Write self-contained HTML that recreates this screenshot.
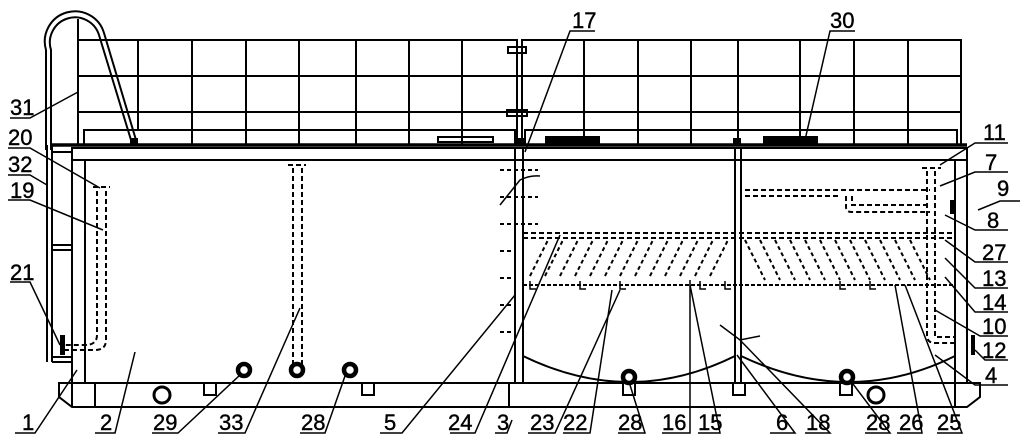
<!DOCTYPE html>
<html><head><meta charset="utf-8"><style>
html,body{margin:0;padding:0;background:#fff}
svg{display:block}
text{font-family:"Liberation Sans",sans-serif;font-size:22px;fill:#000;stroke:#000;stroke-width:0.4}
</style></head><body>
<svg width="1025" height="442" viewBox="0 0 1025 442" xmlns="http://www.w3.org/2000/svg">
<g fill="none" stroke="#000" stroke-width="2">
<rect x="78" y="40" width="439" height="105"/>
<rect x="522" y="40" width="439" height="105"/>
<line x1="78" y1="76" x2="961" y2="76"/>
<line x1="78" y1="112" x2="961" y2="112"/>
<g>
<line x1="138" y1="40" x2="138" y2="130"/><line x1="192" y1="40" x2="192" y2="145"/>
<line x1="246" y1="40" x2="246" y2="145"/><line x1="299" y1="40" x2="299" y2="145"/>
<line x1="356" y1="40" x2="356" y2="145"/><line x1="409" y1="40" x2="409" y2="145"/>
<line x1="462" y1="40" x2="462" y2="145"/>
<line x1="584" y1="40" x2="584" y2="145"/><line x1="638" y1="40" x2="638" y2="145"/>
<line x1="691" y1="40" x2="691" y2="145"/><line x1="738" y1="40" x2="738" y2="145"/>
<line x1="800" y1="40" x2="800" y2="145"/><line x1="854" y1="40" x2="854" y2="145"/>
<line x1="908" y1="40" x2="908" y2="145"/>
</g>
<line x1="78" y1="19" x2="78" y2="140"/>
<rect x="84" y="130" width="431" height="15"/>
<rect x="525" y="130" width="432" height="15"/>
<rect x="508" y="47" width="18" height="6"/><rect x="507" y="110" width="20" height="6"/>
<rect x="438" y="137" width="55" height="5"/>
<line x1="52" y1="145" x2="967" y2="145" stroke-width="3.5"/>
<rect x="72" y="148" width="895" height="12"/>
<line x1="85" y1="160" x2="955" y2="160"/>
<line x1="72" y1="148" x2="72" y2="383"/><line x1="85" y1="160" x2="85" y2="383"/>
<line x1="955" y1="160" x2="955" y2="383"/><line x1="967" y1="148" x2="967" y2="383"/>
<line x1="515" y1="148" x2="515" y2="383"/><line x1="523" y1="148" x2="523" y2="383"/>
<line x1="735" y1="148" x2="735" y2="383"/><line x1="741" y1="148" x2="741" y2="383"/>
<path d="M59 383 L980 383 L980 397 L967 407 L72 407 L59 397 Z"/>
<line x1="72" y1="383" x2="72" y2="407"/><line x1="95" y1="383" x2="95" y2="407"/>
<line x1="955" y1="383" x2="955" y2="407"/><line x1="509" y1="383" x2="509" y2="407"/>
<rect x="204" y="383" width="12" height="12"/><rect x="362" y="383" width="12" height="12"/>
<rect x="623" y="383" width="12" height="12"/><rect x="733" y="383" width="12" height="12"/>
<rect x="840" y="383" width="12" height="12"/>
<circle cx="162" cy="395" r="8" stroke-width="3"/><circle cx="876" cy="395" r="8" stroke-width="3"/>
<path d="M46 150 L46 50 A29 29 0 0 1 104 33 L136 140"/>
<path d="M51 150 L51 50 A24 24 0 0 1 99 35 L131 140"/>
<line x1="47" y1="145" x2="47" y2="362"/><line x1="52" y1="145" x2="52" y2="362"/>
<line x1="52" y1="152" x2="72" y2="152"/><line x1="52" y1="245" x2="72" y2="245"/>
<line x1="52" y1="250" x2="72" y2="250"/><line x1="52" y1="357" x2="72" y2="357"/>
<line x1="52" y1="362" x2="72" y2="362"/>
<path d="M523 356 Q630 408 735 356"/>
<path d="M741 356 Q850 408 955 356"/>
</g>
<g fill="none" stroke="#000" stroke-width="2" stroke-dasharray="5,3">
<path d="M93 187 L110 187 M97 191 L97 335 Q97 345 85 345 L62 345 M106 191 L106 340 Q106 350 95 350 L62 350"/>
<path d="M288 165 L306 165 M293 168 L293 365 M302 168 L302 365"/>
<line x1="523" y1="233" x2="955" y2="233"/>
<line x1="523" y1="238" x2="955" y2="238"/>
<line x1="523" y1="285" x2="955" y2="285" stroke-dasharray="4,2"/>
<path d="M745 190 L930 190 M745 196 L840 196 M846 196 L846 207 Q846 212 852 212 L930 212 M852 196 L852 205 L930 205"/>
<path d="M922 168 L941 168 M927 171 L927 335 Q927 343 935 343 L955 343 M935 171 L935 337 L955 337"/>
</g>
<g stroke="#000" stroke-width="2" stroke-dasharray="4,3">
<path d="M530 276 L548 240 M545 276 L563 240 M560 276 L578 240 M575 276 L593 240 M590 276 L608 240 M605 276 L623 240 M620 276 L638 240 M635 276 L653 240 M650 276 L668 240 M665 276 L683 240 M680 276 L698 240 M695 276 L713 240 M710 276 L728 240"/>
<path d="M745 240 L765 280 M760 240 L780 280 M775 240 L795 280 M790 240 L810 280 M805 240 L825 280 M820 240 L840 280 M835 240 L855 280 M850 240 L870 280 M865 240 L885 280 M880 240 L900 280 M895 240 L915 280 M910 240 L930 280"/>
<path d="M500 170 L538 170 M500 197 L538 197 M500 224 L538 224 M500 251 L515 251 M500 278 L515 278 M500 305 L515 305 M500 332 L515 332"/>
</g>
<g stroke="#000" stroke-width="1.5" fill="none">
<path d="M620 281 v8 h6 M725 281 v8 h6 M840 281 v8 h6 M700 281 v8 h6 M580 281 v8 h6 M870 281 v8 h6 M530 281 v8 h6"/>
</g>
<g fill="#000">
<rect x="545" y="136" width="55" height="9"/><rect x="763" y="136" width="55" height="9"/>
<rect x="130" y="138" width="8" height="7"/><rect x="515" y="138" width="10" height="8"/>
<rect x="733" y="138" width="8" height="8"/><rect x="60" y="335" width="5" height="20"/>
<rect x="971" y="335" width="4" height="20"/><rect x="950" y="200" width="4" height="14"/>
</g>
<g fill="#fff" stroke="#000" stroke-width="4.5">
<circle cx="244" cy="370" r="6"/><circle cx="297" cy="370" r="6"/><circle cx="350" cy="370" r="6"/>
<circle cx="629" cy="377" r="6"/><circle cx="847" cy="377" r="6"/>
</g>
<g stroke="#000" stroke-width="1.5" fill="none">
<path d="M15 433 L35 433 L77 370"/><path d="M95 433 L115 433 L135 352"/>
<path d="M152 433 L178 433 L240 375"/><path d="M218 433 L245 433 L300 308"/>
<path d="M300 433 L325 433 L345 376"/><path d="M380 433 L402 433 L515 295"/>
<path d="M450 433 L475 433 L560 235"/><path d="M495 433 L507 433 L512 420"/>
<path d="M528 433 L555 433 L620 290"/><path d="M563 433 L590 433 L612 290"/>
<path d="M618 433 L645 433 L630 385"/><path d="M662 433 L690 433 L690 280"/>
<path d="M698 433 L720 433 L690 285"/><path d="M770 433 L795 433 L737 355"/>
<path d="M805 433 L830 433 L740 340"/><path d="M865 433 L890 433 L850 380"/>
<path d="M897 433 L922 433 L895 285"/><path d="M937 433 L962 433 L905 285"/>
<path d="M595 31 L570 31 L525 152"/><path d="M855 31 L830 31 L805 140"/>
<path d="M10 118 L30 118 L78 92"/><path d="M8 148 L30 148 L100 188"/>
<path d="M8 175 L30 175 L47 185"/><path d="M8 200 L30 200 L103 230"/>
<path d="M10 282 L30 282 L60 345"/>
<path d="M1008 143 L975 143 L940 165"/><path d="M1008 172 L975 172 L940 186"/>
<path d="M1020 201 L1000 201 L978 210"/><path d="M1008 230 L975 230 L945 215"/>
<path d="M1008 262 L975 262 L945 240"/><path d="M1008 288 L975 288 L945 258"/>
<path d="M1008 312 L975 312 L945 277"/><path d="M1008 336 L980 336 L935 310"/>
<path d="M1008 360 L985 360 L975 350"/><path d="M1008 385 L975 385 L935 355"/>
<path d="M500 205 L520 180 Q530 175 540 176"/><path d="M720 325 L740 340 L760 336"/>
</g>
<text x="22" y="430">1</text><text x="100" y="430">2</text>
<text x="153" y="430">29</text><text x="219" y="430">33</text>
<text x="301" y="430">28</text><text x="384" y="430">5</text>
<text x="448" y="430">24</text><text x="497" y="430">3</text>
<text x="530" y="430">23</text><text x="563" y="430">22</text>
<text x="618" y="430">28</text><text x="662" y="430">16</text>
<text x="698" y="430">15</text><text x="776" y="430">6</text>
<text x="806" y="430">18</text><text x="866" y="430">28</text>
<text x="899" y="430">26</text><text x="937" y="430">25</text>
<text x="572" y="28">17</text><text x="830" y="28">30</text>
<text x="10" y="115">31</text><text x="8" y="145">20</text>
<text x="8" y="172">32</text><text x="10" y="198">19</text>
<text x="10" y="280">21</text>
<text x="983" y="140">11</text><text x="985" y="170">7</text>
<text x="997" y="196">9</text><text x="987" y="228">8</text>
<text x="982" y="260">27</text><text x="982" y="286">13</text>
<text x="982" y="310">14</text><text x="982" y="334">10</text>
<text x="982" y="358">12</text><text x="985" y="383">4</text>
</svg>
</body></html>
